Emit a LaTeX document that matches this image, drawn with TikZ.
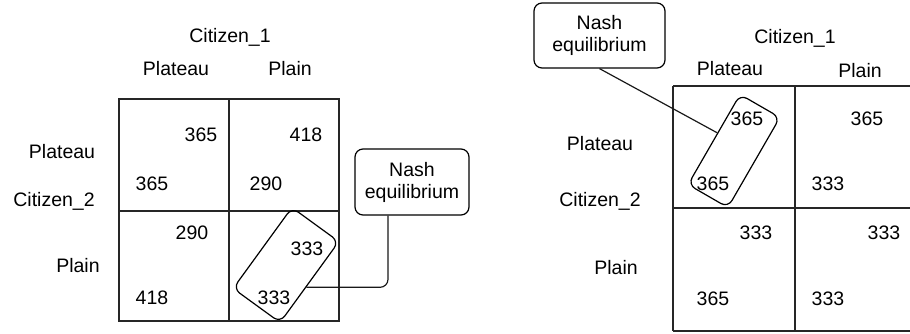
\documentclass[tikz,border=0pt]{standalone}
\usepackage{fontspec}
\setmainfont{Liberation Sans}
\usetikzlibrary{calc}
\begin{document}
\begin{tikzpicture}[x=1pt,y=-1pt,
  font=\fontsize{19.5}{22}\selectfont,
  lbl/.style={inner sep=0pt, anchor=base},
  gridline/.style={line width=1.2pt, draw=black!85},
  nashbox/.style={draw, rounded corners=8pt, line width=1.2pt, align=center, inner sep=0pt},
  eqbox/.style={draw, rounded corners=8pt, line width=1.2pt, inner sep=0pt},
  conn/.style={line width=1.2pt, draw=black!90}]
\useasboundingbox (0,0) rectangle (910,333);
\clip (0,0) rectangle (910,333);
% ---------- left game ----------
\draw[gridline] (119,99) rectangle (339,321);
\draw[gridline] (229,99) -- (229,321);
\draw[gridline] (119,211) -- (339,211);
\node[lbl] (c1a) at (230,42) {Citizen\_1};
\node[lbl] (pla) at (176,75) {Plateau};
\node[lbl] (pna) at (290,75) {Plain};
\node[lbl] (rpla) at (62,158) {Plateau};
\node[lbl] (c2a) at (54,206) {Citizen\_2};
\node[lbl] (rpna) at (78,272) {Plain};
\node[lbl] (a11t) at (201,141) {365};
\node[lbl] (a11b) at (152,190) {365};
\node[lbl] (a12t) at (306,141) {418};
\node[lbl] (a12b) at (266,190) {290};
\node[lbl] (a21t) at (192,239) {290};
\node[lbl] (a21b) at (152,304) {418};
\node[lbl] (a22t) at (307,255) {333};
\node[lbl] (a22b) at (274,304) {333};
\node[eqbox, minimum width=58pt, minimum height=100pt, rotate=-36] (ne1) at (286,265) {};
\node[nashbox, minimum width=114pt, minimum height=66pt] (nash1) at (412,182) {Nash\\equilibrium};
\draw[conn, rounded corners=8pt] ([xshift=-24pt]nash1.south) |- ($(ne1.east)!0.12!(ne1.south east)$);
% ---------- right game ----------
\draw[gridline] (673,86) -- (920,86);
\draw[gridline] (673,208) -- (920,208);
\draw[gridline] (673,331) -- (920,331);
\draw[gridline] (673,86) -- (673,331);
\draw[gridline] (795,86) -- (795,331);
\node[lbl] (c1b) at (795,43) {Citizen\_1};
\node[lbl] (plb) at (730,75) {Plateau};
\node[lbl] (pnb) at (860,77) {Plain};
\node[lbl] (rplb) at (600,150) {Plateau};
\node[lbl] (c2b) at (600,206) {Citizen\_2};
\node[lbl] (rpnb) at (616,274) {Plain};
\node[lbl] (b11t) at (747,125) {365};
\node[lbl] (b11b) at (713,190) {365};
\node[lbl] (b12t) at (867,125) {365};
\node[lbl] (b12b) at (828,190) {333};
\node[lbl] (b21t) at (756,239) {333};
\node[lbl] (b21b) at (713,305) {365};
\node[lbl] (b22t) at (884,239) {333};
\node[lbl] (b22b) at (828,305) {333};
\node[eqbox, minimum width=46pt, minimum height=104pt, rotate=-30] (ne2) at (734,151) {};
\node[nashbox, minimum width=131pt, minimum height=65pt] (nash2) at (599.5,35.5) {Nash\\equilibrium};
\draw[conn] (nash2.south) -- ($(ne2.west)!0.14!(ne2.north west)$);
\end{tikzpicture}
\end{document}
